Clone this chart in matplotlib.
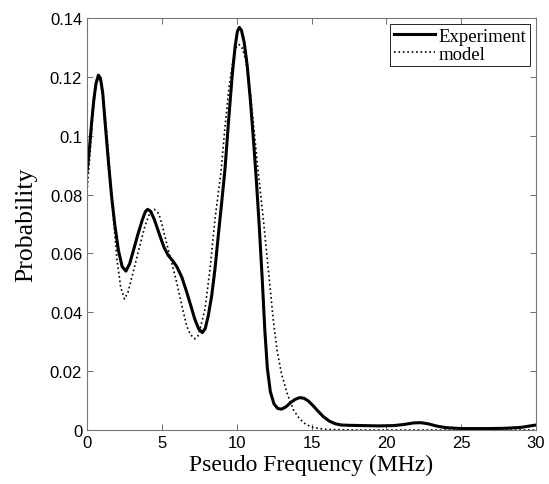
import numpy as np
import matplotlib.pyplot as plt

# experiment curve
exp_f = [0.0, 0.15, 0.3, 0.45, 0.6, 0.76, 0.9, 1.05, 1.25, 1.45, 1.65, 1.85, 2.1,
         2.35, 2.6, 2.85, 3.1, 3.4, 3.7, 3.9, 4.05, 4.25, 4.5, 4.87, 5.15, 5.43,
         5.7, 6.0, 6.33, 6.66, 6.95, 7.2, 7.45, 7.7, 7.9, 8.1, 8.33, 8.55, 8.77,
         9.0, 9.22, 9.45, 9.71, 9.9, 10.05, 10.18, 10.32, 10.5, 10.7, 10.9, 11.1,
         11.3, 11.5, 11.7, 11.88, 12.05, 12.25, 12.5, 12.75, 13.0, 13.3, 13.6,
         13.9, 14.2, 14.5, 14.8, 15.1, 15.4, 15.8, 16.2, 16.6, 17.0, 17.5, 18.5,
         19.5, 20.5, 21.2, 21.8, 22.3, 22.8, 23.4, 24.0, 25.0, 26.0, 27.0, 28.0,
         29.0, 30.0]
exp_p = [0.0877, 0.095, 0.104, 0.112, 0.1178, 0.1206, 0.1195, 0.1145, 0.102,
         0.090, 0.079, 0.070, 0.061, 0.0555, 0.054, 0.0565, 0.061, 0.0665, 0.0715,
         0.0742, 0.075, 0.0743, 0.0715, 0.066, 0.062, 0.0593, 0.0577, 0.0555,
         0.052, 0.0469, 0.042, 0.0377, 0.0345, 0.0331, 0.0345, 0.0388, 0.0456,
         0.0547, 0.066, 0.0774, 0.0887, 0.1045, 0.121, 0.1305, 0.1355, 0.1368,
         0.1358, 0.1318, 0.124, 0.113, 0.100, 0.086, 0.070, 0.052, 0.034, 0.021,
         0.013, 0.0088, 0.0073, 0.0071, 0.0079, 0.0093, 0.0104, 0.0110, 0.0108,
         0.0098, 0.0083, 0.0066, 0.0045, 0.0030, 0.0021, 0.0017, 0.0016, 0.0015,
         0.0014, 0.0015, 0.0019, 0.0024, 0.0025, 0.0021, 0.0013, 0.0008, 0.0005,
         0.0005, 0.0005, 0.0006, 0.0009, 0.0017]

# model curve
mod_f = [0.0, 0.2, 0.4, 0.6, 0.75, 0.9, 1.05, 1.3, 1.55, 1.76, 2.0, 2.25, 2.5,
         2.75, 3.0, 3.2, 3.6, 3.87, 4.2, 4.5, 4.8, 5.05, 5.3, 5.65, 6.0, 6.35,
         6.65, 6.9, 7.2, 7.4, 7.55, 7.88, 8.22, 8.55, 8.95, 9.2, 9.5, 9.8, 10.0,
         10.15, 10.35, 10.6, 10.9, 11.2, 11.44, 11.78, 12.11, 12.44, 12.7, 13.0,
         13.4, 13.8, 14.2, 14.6, 15.0, 15.5, 16.0, 17.0, 18.0, 30.0]
mod_p = [0.081, 0.094, 0.108, 0.1175, 0.1195, 0.1185, 0.114, 0.102, 0.086, 0.072,
         0.058, 0.0485, 0.0445, 0.047, 0.052, 0.056, 0.064, 0.0693, 0.0738, 0.075,
         0.0735, 0.069, 0.0639, 0.057, 0.050, 0.042, 0.0355, 0.0325, 0.031,
         0.0318, 0.0343, 0.041, 0.0547, 0.0717, 0.0876, 0.102, 0.117, 0.127,
         0.1305, 0.131, 0.130, 0.126, 0.115, 0.100, 0.0876, 0.0717, 0.0547,
         0.0377, 0.027, 0.019, 0.012, 0.0068, 0.0038, 0.002, 0.001, 0.0005,
         0.0002, 0.0001, 0.0, 0.0]

fig = plt.figure(figsize=(5.49, 4.85), dpi=100)
ax = fig.add_axes([0.1585, 0.1113, 0.8178, 0.8495])

ax.plot(exp_f, exp_p, color='black', lw=2.2, label='Experiment')
ax.plot(mod_f, mod_p, color='black', lw=1.2, ls=':', label='model')

ax.set_xlim(0, 30)
ax.set_ylim(0, 0.14)
ax.set_xticks([0, 5, 10, 15, 20, 25, 30])
ax.set_yticks([0, 0.02, 0.04, 0.06, 0.08, 0.1, 0.12, 0.14])
ax.set_yticklabels(['0', '0.02', '0.04', '0.06', '0.08', '0.1', '0.12', '0.14'])
ax.tick_params(direction='in', top=True, right=True, length=4, width=0.6,
               color='#555555', labelsize=12)
for lbl in ax.get_xticklabels() + ax.get_yticklabels():
    lbl.set_fontfamily('Liberation Sans')
for s in ax.spines.values():
    s.set_color('#777777')
    s.set_linewidth(0.8)

ax.set_xlabel('Pseudo Frequency (MHz)', fontfamily='Liberation Serif', fontsize=17,
              labelpad=3)
ax.set_ylabel('Probability', fontfamily='Liberation Serif', fontsize=18.5,
              labelpad=9)

leg = ax.legend(loc='upper right', prop={'family': 'Liberation Serif', 'size': 13.5},
                fancybox=False, edgecolor='black', framealpha=1,
                borderaxespad=0.3, handlelength=2.2, handletextpad=0.2,
                borderpad=0.2, labelspacing=0.05)
leg.get_frame().set_linewidth(0.6)

fig.savefig('out.png', dpi=100)
